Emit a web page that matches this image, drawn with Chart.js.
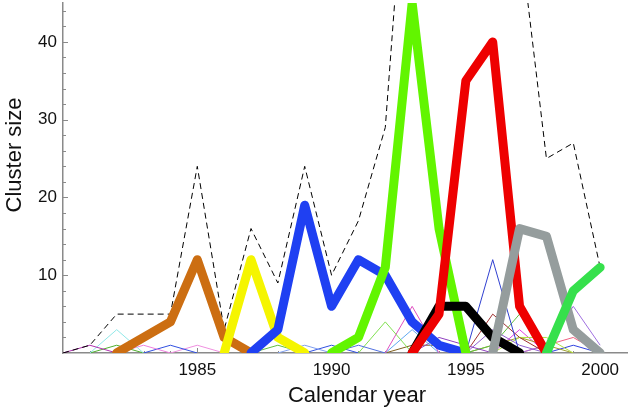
<!DOCTYPE html>
<html><head><meta charset="utf-8">
<script src="https://cdn.jsdelivr.net/npm/chart.js@4.4.1/dist/chart.umd.min.js"></script>
<style>html,body{margin:0;padding:0;background:#fff}#wrap{width:629px;height:410px}</style>
</head><body><div id="wrap"><canvas id="c" width="629" height="410"></canvas></div>
<script>
const N = null;
const years = [1980,1981,1982,1983,1984,1985,1986,1987,1988,1989,1990,1991,1992,1993,1994,1995,1996,1997,1998,1999,2000];
const xTickLabels = [1985,1990,1995,2000];
const yTickLabels = [10,20,30,40];
const xTitle = 'Calendar year';
const yTitle = 'Cluster size';

// total (dashed)
const total  = [0,1,5,5,5,24,3,16,9,24,10,17,29,75,52,62,70,54,25,27,11];
// large clusters (thick)
const orange = [N,N,0,2,4,12,2,0,N,N,N,N,N,N,N,N,N,N,N,N,N];
const yellow = [N,N,N,N,N,N,0,12,2,0,N,N,N,N,N,N,N,N,N,N,N];
const blue   = [N,N,N,N,N,N,N,0,3,19,6,12,10,4,1,0,N,N,N,N,N];
const lime   = [N,N,N,N,N,N,N,N,N,N,0,2,11,45,16,0,N,N,N,N,N];
const red    = [N,N,N,N,N,N,N,N,N,N,N,N,N,0,5,35,40,6,0,N,N];
const black  = [N,N,N,N,N,N,N,N,N,N,N,N,N,0,6,6,2,0,N,N,N];
const grey   = [N,N,N,N,N,N,N,N,N,N,N,N,N,N,N,N,0,16,15,3,0];
const green  = [N,N,N,N,N,N,N,N,N,N,N,N,N,N,N,N,N,N,0,8,11];
// small clusters (thin)
const s1  = [0,1,0,N,N,N,N,N,N,N,N,N,N,N,N,N,N,N,N,N,N];
const s2  = [N,0,3,0,N,N,N,N,N,N,N,N,N,N,N,N,N,N,N,N,N];
const s3  = [N,0,1,0,N,N,N,N,N,N,N,N,N,N,N,N,N,N,N,N,N];
const s4  = [N,N,0,1,0,N,N,N,N,N,N,N,N,N,N,N,N,N,N,N,N];
const s5  = [N,N,N,0,1,0,N,N,N,N,N,N,N,N,N,N,N,N,N,N,N];
const s6  = [N,N,N,N,0,1,0,N,N,N,N,N,N,N,N,N,N,N,N,N,N];
const s7  = [N,N,N,N,N,N,N,0,1,0,N,N,N,N,N,N,N,N,N,N,N];
const s8  = [N,N,N,N,N,N,N,N,0,1,0,N,N,N,N,N,N,N,N,N,N];
const s9  = [N,N,N,N,N,N,N,N,N,0,1,0,N,N,N,N,N,N,N,N,N];
const s10 = [N,N,N,N,N,N,N,N,N,N,0,1,0,N,N,N,N,N,N,N,N];
const s11 = [N,N,N,N,N,N,N,N,N,N,N,0,4,0,N,N,N,N,N,N,N];
const s12 = [N,N,N,N,N,N,N,N,N,N,N,N,0,6,0,N,N,N,N,N,N];
const s13 = [N,N,N,N,N,N,N,N,N,N,N,N,0,3,0,N,N,N,N,N,N];
const s14 = [N,N,N,N,N,N,N,N,N,N,N,N,N,0,2,1,0,N,N,N,N];
const s15 = [N,N,N,N,N,N,N,N,N,N,N,N,0,1,1,0,N,N,N,N,N];
const s16 = [N,N,N,N,N,N,N,N,N,N,N,N,N,N,N,0,12,0,N,N,N];
const s17 = [N,N,N,N,N,N,N,N,N,N,N,N,N,N,N,0,5,2,0,N,N];
const s18 = [N,N,N,N,N,N,N,N,N,N,N,N,N,N,N,0,3,1,0,N,N];
const s19 = [N,N,N,N,N,N,N,N,N,N,N,N,N,N,N,0,1,5,0,N,N];
const s20 = [N,N,N,N,N,N,N,N,N,N,N,N,N,N,N,N,0,2,2,0,N];
const s21 = [N,N,N,N,N,N,N,N,N,N,N,N,N,N,N,0,1,2,1,0,N];
const s22 = [N,N,N,N,N,N,N,N,N,N,N,N,N,N,N,N,N,0,1,6,1];
const s23 = [N,N,N,N,N,N,N,N,N,N,N,N,N,N,N,N,N,0,1,2,0];
const s24 = [N,N,N,N,N,N,N,N,N,N,N,N,N,N,N,N,N,N,0,1,0];
const s25 = [N,N,N,N,N,N,N,N,N,N,N,N,N,N,N,N,0,3,0,N,N];

const pts = arr => years.map((yr,i)=>({x:yr,y:arr[i]}));
const thick = (arr,color,order)=>({data:pts(arr),borderColor:color,borderWidth:9,borderJoinStyle:'round',borderCapStyle:'round',pointRadius:0,order:order,spanGaps:false});
const thin = (arr,color)=>({data:pts(arr),borderColor:color,borderWidth:1,pointRadius:0,order:30,spanGaps:false});

const datasets = [
  thick(green,'#36e04c',1),
  thick(grey,'#959d9d',2),
  thick(red,'#ee0000',3),
  thick(black,'#000000',4),
  thick(lime,'#62f500',5),
  thick(blue,'#1f40f2',6),
  thick(yellow,'#f5f500',7),
  thick(orange,'#cc6e12',8),
  {data:pts(total),borderColor:'#000',borderWidth:1,borderDash:[6,4],pointRadius:0,order:20},
  thin(s1,'#b030b0'), thin(s2,'#90e8e8'), thin(s3,'#50b030'), thin(s4,'#f080e0'),
  thin(s5,'#3050e0'), thin(s6,'#f090e0'), thin(s7,'#60c040'), thin(s8,'#80a0f0'),
  thin(s9,'#3050e0'), thin(s10,'#5070e0'), thin(s11,'#80e050'), thin(s12,'#e050c0'),
  thin(s13,'#60a8f0'), thin(s14,'#9040c0'), thin(s15,'#806020'), thin(s16,'#3040d0'),
  thin(s17,'#a03030'), thin(s18,'#9060d0'), thin(s19,'#60c040'), thin(s20,'#b0e040'),
  thin(s21,'#a0a030'), thin(s22,'#a070e0'), thin(s23,'#f06080'), thin(s24,'#3040e0'),
  thin(s25,'#e040e0')
];

const decor = {
  id:'decor',
  beforeDatasetsDraw(chart){
    const {ctx, chartArea:a, scales:{x,y}} = chart;
    ctx.save();
    ctx.strokeStyle = '#8a8a8a'; ctx.lineWidth = 1;
    ctx.beginPath();
    for (let v=2; v<=44; v+=2){
      const py = Math.round(y.getPixelForValue(v))+0.5;
      const len = v%10===0?5:3;
      ctx.moveTo(a.left, py); ctx.lineTo(a.left+len, py);
    }
    for (let yr=1981; yr<=2000; yr++){
      const px = Math.round(x.getPixelForValue(yr))+0.5;
      const len = yr%5===0?5:2;
      ctx.moveTo(px, a.bottom); ctx.lineTo(px, a.bottom-len);
    }
    ctx.stroke();
    ctx.restore();
  },
  afterDraw(chart){
    const {ctx} = chart;
    ctx.save();
    ctx.fillStyle = '#111';
    ctx.font = '22px "Liberation Sans", Arial, sans-serif';
    ctx.textAlign = 'center'; ctx.textBaseline = 'middle';
    ctx.fillText(xTitle, 357, 396);
    ctx.translate(15, 155); ctx.rotate(-Math.PI/2);
    ctx.fillText(yTitle, 0, 0);
    ctx.restore();
  }
};

new Chart(document.getElementById('c'), {
  type:'line',
  data:{datasets},
  plugins:[decor],
  options:{
    responsive:false, animation:false, devicePixelRatio:1,
    layout:{padding:{top:3,right:2,left:0,bottom:0}},
    plugins:{legend:{display:false}, tooltip:{enabled:false}},
    scales:{
      x:{type:'linear', min:1980, max:2001,
        afterFit(s){ s.height = 57; s.paddingLeft = 0; s.paddingRight = 0; },
        afterBuildTicks(s){ s.ticks = xTickLabels.map(v=>({value:v})); },
        grid:{drawOnChartArea:false, drawTicks:false},
        border:{display:true, color:'#8a8a8a', width:1.5},
        ticks:{padding:7, color:'#111', font:{family:'"Liberation Sans", Arial, sans-serif', size:17}, callback:v=>String(v), maxRotation:0}
      },
      y:{type:'linear', min:0, max:45,
        afterFit(s){ s.width = 63; s.paddingTop = 0; s.paddingBottom = 0; },
        afterBuildTicks(s){ s.ticks = yTickLabels.map(v=>({value:v})); },
        grid:{drawOnChartArea:false, drawTicks:false},
        border:{display:true, color:'#8a8a8a', width:1.5},
        ticks:{padding:6, color:'#111', font:{family:'"Liberation Sans", Arial, sans-serif', size:17}, callback:v=>String(v)}
      }
    }
  }
});
</script></body></html>
